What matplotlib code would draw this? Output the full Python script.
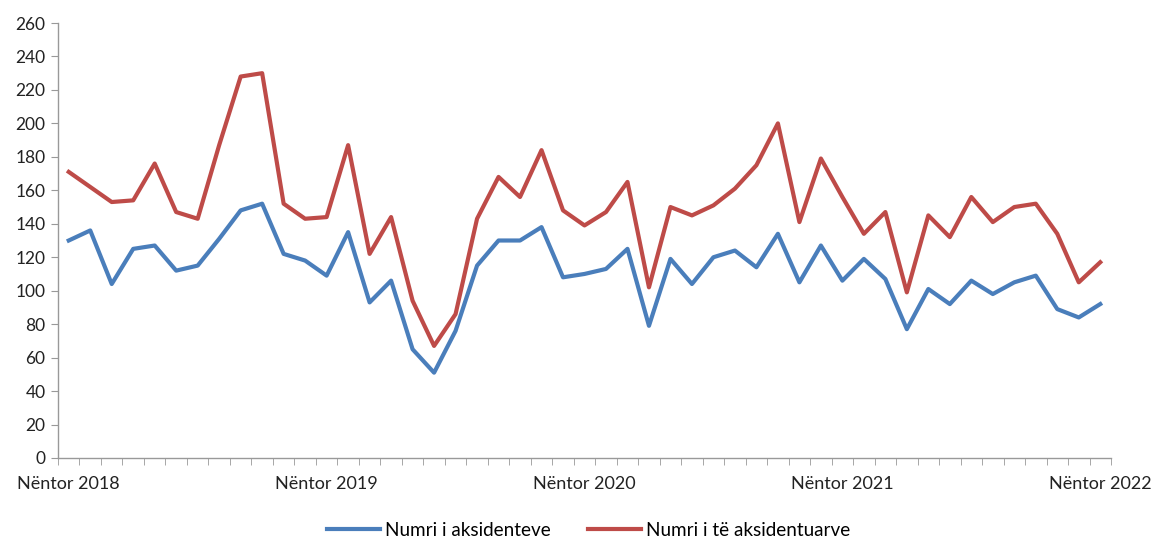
import numpy as np
import matplotlib
matplotlib.use("Agg")
import matplotlib.pyplot as plt

# monthly, Nov 2018 .. Nov 2022
accidents = [130, 136, 104, 125, 127, 112, 115, 131, 148, 152,
             122, 118, 109, 135, 93, 106, 65, 51, 76, 115,
             130, 130, 138, 108, 110, 113, 125, 79, 119, 104,
             120, 124, 114, 134, 105, 127, 106, 119, 107, 77,
             101, 92, 106, 98, 105, 109, 89, 84, 92]
injured = [171, 162, 153, 154, 176, 147, 143, 187, 228, 230,
           152, 143, 144, 187, 122, 144, 94, 67, 86, 143,
           168, 156, 184, 148, 139, 147, 165, 102, 150, 145,
           151, 161, 175, 200, 141, 179, 156, 134, 147, 99,
           145, 132, 156, 141, 150, 152, 134, 105, 117]
label_pos = [0, 12, 24, 36, 48]
labels = ["Nëntor 2018", "Nëntor 2019", "Nëntor 2020", "Nëntor 2021", "Nëntor 2022"]
series_names = ["Numri i aksidenteve", "Numri i të aksidentuarve"]

plt.rcParams['font.family'] = ['Lato', 'DejaVu Sans']

fig = plt.figure(figsize=(11.52, 5.42), dpi=100)
ax = fig.add_axes([58 / 1152, 1 - 458 / 542, (1111 - 58) / 1152, (458 - 23) / 542])

x = np.arange(len(accidents))
ax.plot(x, accidents, color='#4A7EBB', lw=3, label=series_names[0], solid_joinstyle='round')
ax.plot(x, injured, color='#BE4B48', lw=3, label=series_names[1], solid_joinstyle='round')

ax.set_xlim(-0.5, len(accidents) - 0.5)
ax.set_ylim(0, 260)
ax.set_yticks(np.arange(0, 261, 20))

ax.set_xticks(label_pos)
ax.set_xticklabels(labels)
ax.set_xticks(np.arange(-0.5, len(accidents), 1), minor=True)
ax.tick_params(axis='x', which='major', length=0, pad=13, labelsize=13, colors='#222222')
ax.tick_params(axis='x', which='minor', length=5, color='#999999')
ax.tick_params(axis='y', length=5, color='#999999', labelsize=12.5, labelcolor='#222222', pad=4)

for s in ['top', 'right']:
    ax.spines[s].set_visible(False)
for s in ['left', 'bottom']:
    ax.spines[s].set_color('#999999')
    ax.spines[s].set_linewidth(1)

fig.legend(loc='lower center', bbox_to_anchor=(0.511, -0.026), ncol=2, frameon=False,
           fontsize=13.6, handlelength=2.8, columnspacing=2.0, handletextpad=0.25)

fig.savefig("out.png", dpi=100)
